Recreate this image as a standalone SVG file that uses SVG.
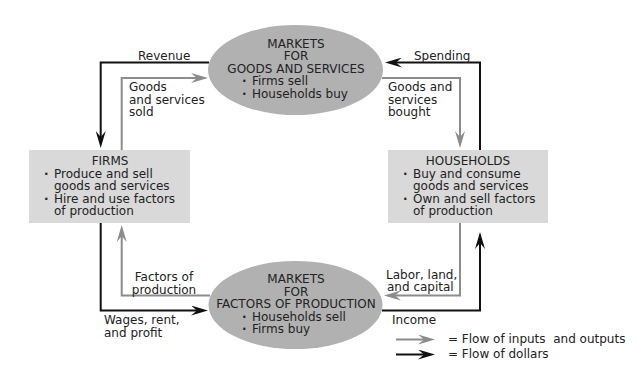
<svg xmlns="http://www.w3.org/2000/svg" width="638" height="381" viewBox="0 0 638 381">
<style>
text{font-family:"DejaVu Sans",Verdana,sans-serif;font-size:12px;fill:#222}
.c{text-anchor:middle}
.b{font-weight:bold}
.ell{fill:#b1b1b1}
.box{fill:#d9d9d9}
.blk{fill:none;stroke:#111;stroke-width:2}
.gry{fill:none;stroke:#8c8c8c;stroke-width:2}
</style>
<defs>
<marker id="ab" viewBox="0 0 17 10" refX="6" refY="5" markerWidth="17" markerHeight="10" markerUnits="userSpaceOnUse" orient="auto"><path d="M0,0 L17,5 L0,10 L6,5 Z" fill="#111"/></marker>
<marker id="ag" viewBox="0 0 17 10" refX="6" refY="5" markerWidth="17" markerHeight="10" markerUnits="userSpaceOnUse" orient="auto"><path d="M0,0 L17,5 L0,10 L6,5 Z" fill="#8c8c8c"/></marker>
</defs>
<rect width="638" height="381" fill="#fff"/>
<g id="goods-market">
<ellipse class="ell" cx="295.5" cy="70" rx="87.5" ry="45"/>
<text class="c" x="296" y="47.5">MARKETS</text>
<text class="c" x="296" y="60">FOR</text>
<text class="c" x="296" y="72.5">GOODS AND SERVICES</text>
<text class="b" x="242" y="85">·</text><text x="252" y="85">Firms sell</text>
<text class="b" x="242" y="97.5">·</text><text x="252" y="97.5">Households buy</text>
</g>
<g id="factor-market">
<ellipse class="ell" cx="295.5" cy="305" rx="87" ry="44"/>
<text class="c" x="296" y="283">MARKETS</text>
<text class="c" x="296" y="295.5">FOR</text>
<text class="c" x="296" y="308">FACTORS OF PRODUCTION</text>
<text class="b" x="242" y="320.5">·</text><text x="252" y="320.5">Households sell</text>
<text class="b" x="242" y="333">·</text><text x="252" y="333">Firms buy</text>
</g>
<g id="firms">
<rect class="box" x="29" y="150" width="161" height="73"/>
<text class="c" x="110" y="165">FIRMS</text>
<text class="b" x="44" y="177.5">·</text><text x="54" y="177.5">Produce and sell</text>
<text x="54" y="190">goods and services</text>
<text class="b" x="44" y="202.5">·</text><text x="54" y="202.5">Hire and use factors</text>
<text x="54" y="215">of production</text>
</g>
<g id="households">
<rect class="box" x="388" y="150" width="160" height="73"/>
<text class="c" x="468" y="165">HOUSEHOLDS</text>
<text class="b" x="403" y="177.5">·</text><text x="413" y="177.5">Buy and consume</text>
<text x="413" y="190">goods and services</text>
<text class="b" x="403" y="202.5">·</text><text x="413" y="202.5">Own and sell factors</text>
<text x="413" y="215">of production</text>
</g>
<g id="connectors">
<path class="blk" d="M209,62.5 H100.7 V137" marker-end="url(#ab)"/>
<path class="gry" d="M121.7,150 V78 H197" marker-end="url(#ag)"/>
<path class="blk" d="M480,150 V62.5 H396" marker-end="url(#ab)"/>
<path class="gry" d="M382,78 H460 V137" marker-end="url(#ag)"/>
<path class="gry" d="M460,223 V295.5 H395" marker-end="url(#ag)"/>
<path class="blk" d="M382,310.5 H480 V243" marker-end="url(#ab)"/>
<path class="gry" d="M210,295.5 H121.7 V236" marker-end="url(#ag)"/>
<path class="blk" d="M100.7,223 V310.5 H197" marker-end="url(#ab)"/>
<text x="138" y="60">Revenue</text>
<text x="414" y="60">Spending</text>
<text x="129" y="91">Goods</text>
<text x="129" y="103.5">and services</text>
<text x="129" y="116">sold</text>
<text x="388" y="91">Goods and</text>
<text x="388" y="103.5">services</text>
<text x="388" y="116">bought</text>
<text class="c" x="164" y="281">Factors of</text>
<text class="c" x="164" y="293.5">production</text>
<text x="386" y="278.5">Labor, land,</text>
<text x="387" y="291">and capital</text>
<text x="104" y="324">Wages, rent,</text>
<text x="104" y="336.5">and profit</text>
<text x="392" y="323.5">Income</text>
</g>
<g id="legend">
<path class="gry" d="M396,339.5 H424" marker-end="url(#ag)"/>
<path class="blk" d="M396,354.5 H424" marker-end="url(#ab)"/>
<text x="448" y="343" xml:space="preserve">= Flow of inputs  and outputs</text>
<text x="448" y="358">= Flow of dollars</text>
</g>
</svg>
